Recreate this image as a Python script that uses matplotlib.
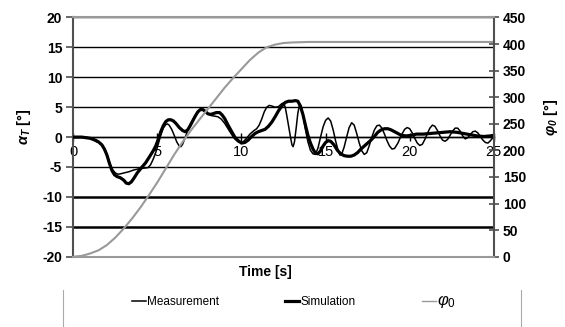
import matplotlib
matplotlib.use("Agg")
import matplotlib.pyplot as plt
from matplotlib.lines import Line2D

plt.rcParams['font.family'] = ['Liberation Sans', 'DejaVu Sans']
plt.rcParams['mathtext.fontset'] = 'custom'
plt.rcParams['mathtext.rm'] = 'Liberation Sans'
plt.rcParams['mathtext.it'] = 'Liberation Sans:italic'
plt.rcParams['mathtext.bf'] = 'Liberation Sans:italic:bold'
plt.rcParams['axes.unicode_minus'] = False

# ---------------- data ----------------
meas_t = [0, 0.4, 0.8, 1.0, 1.2, 1.4, 1.6, 1.75, 1.9, 2.05, 2.2, 2.35, 2.5, 2.65, 2.8,
          3.0, 3.3, 3.6, 3.9, 4.2, 4.45, 4.6, 4.75, 4.9, 5.05, 5.2, 5.35, 5.5, 5.6, 5.7,
          5.85, 6.0, 6.15, 6.3, 6.4, 6.5, 6.65, 6.8, 6.95, 7.1, 7.25, 7.4, 7.55, 7.7,
          7.85, 8.0, 8.2, 8.4, 8.6, 8.8, 9.0, 9.2, 9.4, 9.6, 9.8, 9.95, 10.1, 10.3,
          10.5, 10.7, 10.9, 11.05, 11.2, 11.35, 11.5, 11.65, 11.8, 12.0, 12.2, 12.4,
          12.5, 12.6, 12.7, 12.8, 12.9, 13.0, 13.07, 13.15, 13.25, 13.35, 13.45, 13.55,
          13.65, 13.8, 13.95, 14.1, 14.25, 14.4, 14.55, 14.7, 14.85, 15.0, 15.15, 15.3,
          15.45, 15.6, 15.75, 15.85, 15.95, 16.1, 16.25, 16.4, 16.55, 16.7, 16.85, 17.0,
          17.15, 17.3, 17.45, 17.6, 17.75, 17.9, 18.05, 18.2, 18.35, 18.5, 18.65, 18.8,
          18.95, 19.1, 19.3, 19.5, 19.7, 19.85, 20.0, 20.15, 20.3, 20.45, 20.6, 20.75,
          20.9, 21.05, 21.2, 21.35, 21.5, 21.65, 21.8, 21.95, 22.1, 22.25, 22.4, 22.55,
          22.7, 22.85, 23.0, 23.15, 23.3, 23.45, 23.6, 23.75, 23.9, 24.05, 24.2, 24.35,
          24.5, 24.65, 24.8, 25.0]
meas_v = [0, 0.0, -0.05, -0.2, -0.5, -0.8, -1.0, -1.4, -2.2, -3.4, -4.6, -5.5, -6.0,
          -6.2, -6.15, -6.0, -5.8, -5.5, -5.3, -5.2, -5.1, -4.6, -3.7, -2.6, -1.2, 0.3,
          1.5, 2.1, 2.2, 2.0, 1.3, 0.3, -0.8, -1.5, -1.6, -1.2, -0.1, 1.1, 2.1, 2.9,
          3.6, 4.2, 4.6, 4.6, 4.3, 3.9, 3.6, 3.5, 3.4, 3.0, 2.3, 1.4, 0.5, -0.3, -0.8,
          -0.9, -0.8, -0.2, 0.5, 1.0, 1.4, 2.0, 3.0, 4.2, 5.0, 5.3, 5.2, 5.0, 5.1, 5.6,
          5.7, 5.0, 3.5, 1.8, 0.2, -1.3, -1.6, -0.8, 1.5, 4.0, 5.4, 5.2, 3.8, 1.3, -0.8,
          -2.2, -2.8, -2.9, -1.8, 0.0, 1.7, 2.8, 3.2, 2.7, 1.2, -0.7, -2.3, -3.0, -2.9,
          -1.7, 0.0, 1.6, 2.4, 2.0, 0.6, -1.0, -2.3, -2.9, -2.6, -1.4, 0.0, 1.2, 1.9,
          2.0, 1.5, 0.5, -0.6, -1.5, -2.0, -1.9, -1.0, 0.3, 1.3, 1.6, 1.4, 0.7, -0.2,
          -1.0, -1.4, -1.2, -0.4, 0.6, 1.5, 2.0, 1.8, 1.1, 0.2, -0.5, -0.7, -0.4, 0.3,
          1.0, 1.5, 1.5, 1.0, 0.2, -0.3, -0.1, 0.4, 0.9, 1.0, 0.7, 0.1, -0.5, -0.9,
          -1.0, -0.6, 0.1]

sim_t = [0, 0.5, 1.0, 1.3, 1.5, 1.7, 1.85, 2.0, 2.15, 2.3, 2.45, 2.6, 2.8, 3.0, 3.15,
         3.3, 3.45, 3.6, 3.8, 4.0, 4.3, 4.55, 4.75, 4.9, 5.05, 5.2, 5.35, 5.5, 5.65,
         5.8, 5.95, 6.1, 6.3, 6.5, 6.65, 6.8, 6.95, 7.1, 7.25, 7.4, 7.55, 7.7, 7.85,
         8.0, 8.15, 8.3, 8.5, 8.7, 8.85, 9.0, 9.2, 9.4, 9.6, 9.8, 10.0, 10.2, 10.4,
         10.6, 10.8, 11.0, 11.2, 11.4, 11.6, 11.8, 12.0, 12.2, 12.4, 12.6, 12.8, 13.0,
         13.2, 13.35, 13.5, 13.65, 13.8, 13.95, 14.1, 14.25, 14.4, 14.55, 14.7, 14.85,
         15.0, 15.15, 15.3, 15.5, 15.7, 15.9, 16.1, 16.3, 16.5, 16.7, 16.9, 17.1, 17.3,
         17.5, 17.7, 17.9, 18.1, 18.3, 18.5, 18.7, 18.9, 19.1, 19.3, 19.5, 19.8, 20.1,
         20.4, 20.8, 21.2, 21.6, 22.0, 22.4, 22.8, 23.2, 23.6, 24.0, 24.4, 24.8, 25.0]
sim_v = [0, 0, -0.2, -0.5, -0.8, -1.3, -2.0, -3.0, -4.4, -5.6, -6.3, -6.6, -6.8, -7.2,
         -7.7, -7.8, -7.5, -6.9, -6.0, -5.3, -4.3, -3.2, -2.3, -1.5, -0.4, 0.9, 1.9,
         2.6, 2.9, 2.9, 2.7, 2.3, 1.6, 1.1, 0.9, 1.2, 1.9, 2.7, 3.5, 4.2, 4.6, 4.6,
         4.3, 3.9, 3.8, 3.9, 4.1, 4.1, 3.7, 3.1, 2.0, 1.0, 0.0, -0.6, -1.0, -0.9, -0.5,
         0.1, 0.6, 0.9, 1.1, 1.3, 1.8, 2.5, 3.4, 4.4, 5.2, 5.8, 6.0, 6.0, 6.1, 6.0,
         5.2, 3.8, 2.0, 0.3, -1.0, -2.0, -2.7, -2.8, -2.3, -1.5, -0.9, -0.6, -0.7,
         -1.3, -2.2, -2.8, -3.1, -3.2, -3.2, -3.0, -2.6, -2.0, -1.5, -1.0, -0.5, 0.1,
         0.8, 1.2, 1.4, 1.4, 1.2, 0.9, 0.6, 0.3, 0.2, 0.3, 0.5, 0.5, 0.6, 0.7, 0.8,
         0.9, 0.8, 0.6, 0.4, 0.2, 0.1, 0.2, 0.3]

phi_t = [0, 0.5, 1, 1.5, 2, 2.5, 3, 3.5, 4, 4.5, 5, 5.5, 6, 6.5, 7, 7.5, 8, 8.5, 9,
         9.5, 10, 10.5, 11, 11.5, 12, 12.5, 13, 14, 25]
phi_v = [0, 1.5, 6, 12, 22, 36, 53, 72, 93, 116, 140, 166, 192, 216, 238, 258, 278,
         298, 318, 336, 353, 370, 384, 394, 399, 402, 403, 404, 404]

left_ticks = [-20, -15, -10, -5, 0, 5, 10, 15, 20]
right_ticks = [0, 50, 100, 150, 200, 250, 300, 350, 400, 450]
x_ticks = [0, 5, 10, 15, 20, 25]

labels = ['Measurement', 'Simulation', r'$\varphi_0$']

# ---------------- figure ----------------
fig = plt.figure(figsize=(5.65, 3.27), dpi=100)
ax = fig.add_axes([0.1297, 0.215, 0.7443, 0.7315])
ax2 = ax.twinx()

ax.set_xlim(0, 25)
ax.set_ylim(-20, 20)
ax2.set_ylim(0, 450)

ax.set_yticks(left_ticks)
ax.set_xticks(x_ticks)
ax2.set_yticks(right_ticks)

# grid
ax.yaxis.grid(True, color='black', lw=1.0)
ax.set_axisbelow(True)
for gl, v in zip(ax.get_ygridlines(), left_ticks):
    if v in (-10, -15):
        gl.set_linewidth(1.8)

# spines
ax.spines['bottom'].set_position(('data', 0))
ax.spines['bottom'].set_color('black')
ax.spines['bottom'].set_linewidth(1.0)
ax.spines['top'].set_visible(False)
ax.spines['right'].set_visible(False)
ax.spines['left'].set_color('#505050')
ax.spines['left'].set_linewidth(1.5)
ax2.spines['left'].set_visible(False)
ax2.spines['top'].set_color('#999999')
ax2.spines['top'].set_linewidth(1.5)
ax2.spines['bottom'].set_color('#999999')
ax2.spines['bottom'].set_linewidth(1.5)
ax2.spines['right'].set_color('#505050')
ax2.spines['right'].set_linewidth(1.5)

ax.tick_params(axis='y', direction='out', length=5, width=1.2, color='#505050',
               labelsize=10, pad=3)
ax.tick_params(axis='x', direction='inout', length=6, width=1.0, color='black',
               labelsize=10.5, pad=3)
ax2.tick_params(axis='y', direction='inout', length=7, width=1.2, color='#505050',
                labelsize=10, pad=3)
for lab in ax.get_yticklabels() + ax2.get_yticklabels():
    lab.set_fontweight('bold')

# curves
l1, = ax.plot(meas_t, meas_v, color='black', lw=1.1, zorder=3)
l2, = ax.plot(sim_t, sim_v, color='black', lw=2.3, zorder=3)
l3, = ax2.plot(phi_t, phi_v, color='#999999', lw=1.5, zorder=2)

# labels
ax.set_xlabel('Time [s]', fontsize=10, fontweight='bold')
ax.xaxis.set_label_coords(0.456, -0.035)
ax.set_ylabel(r'$\mathbf{\alpha_T}$ [°]', fontsize=10.5, fontweight='bold')
ax.yaxis.set_label_coords(-0.096, 0.542)
ax2.set_ylabel(r'$\mathbf{\varphi_0}$ [°]', fontsize=10.5, fontweight='bold')
ax2.yaxis.label.set_rotation(90)
ax2.yaxis.label.set_va('center')
ax2.yaxis.label.set_ha('center')
ax2.yaxis.set_label_coords(1.1355, 0.581)

# legend
leg = fig.legend([l1, l2, Line2D([], [], color='#999999', lw=1.0)], labels,
                 loc='center', bbox_to_anchor=(0.52, 0.078), ncol=3, frameon=False,
                 fontsize=8.5, handlelength=1.2, handletextpad=0.1, columnspacing=5.6)
leg.get_texts()[2].set_fontsize(12)

fig.add_artist(Line2D([63 / 565, 63 / 565], [0, 37 / 327], color='#aaaaaa', lw=0.8))
fig.add_artist(Line2D([521 / 565, 521 / 565], [0, 37 / 327], color='#aaaaaa', lw=0.8))

fig.savefig('out.png', dpi=100)
